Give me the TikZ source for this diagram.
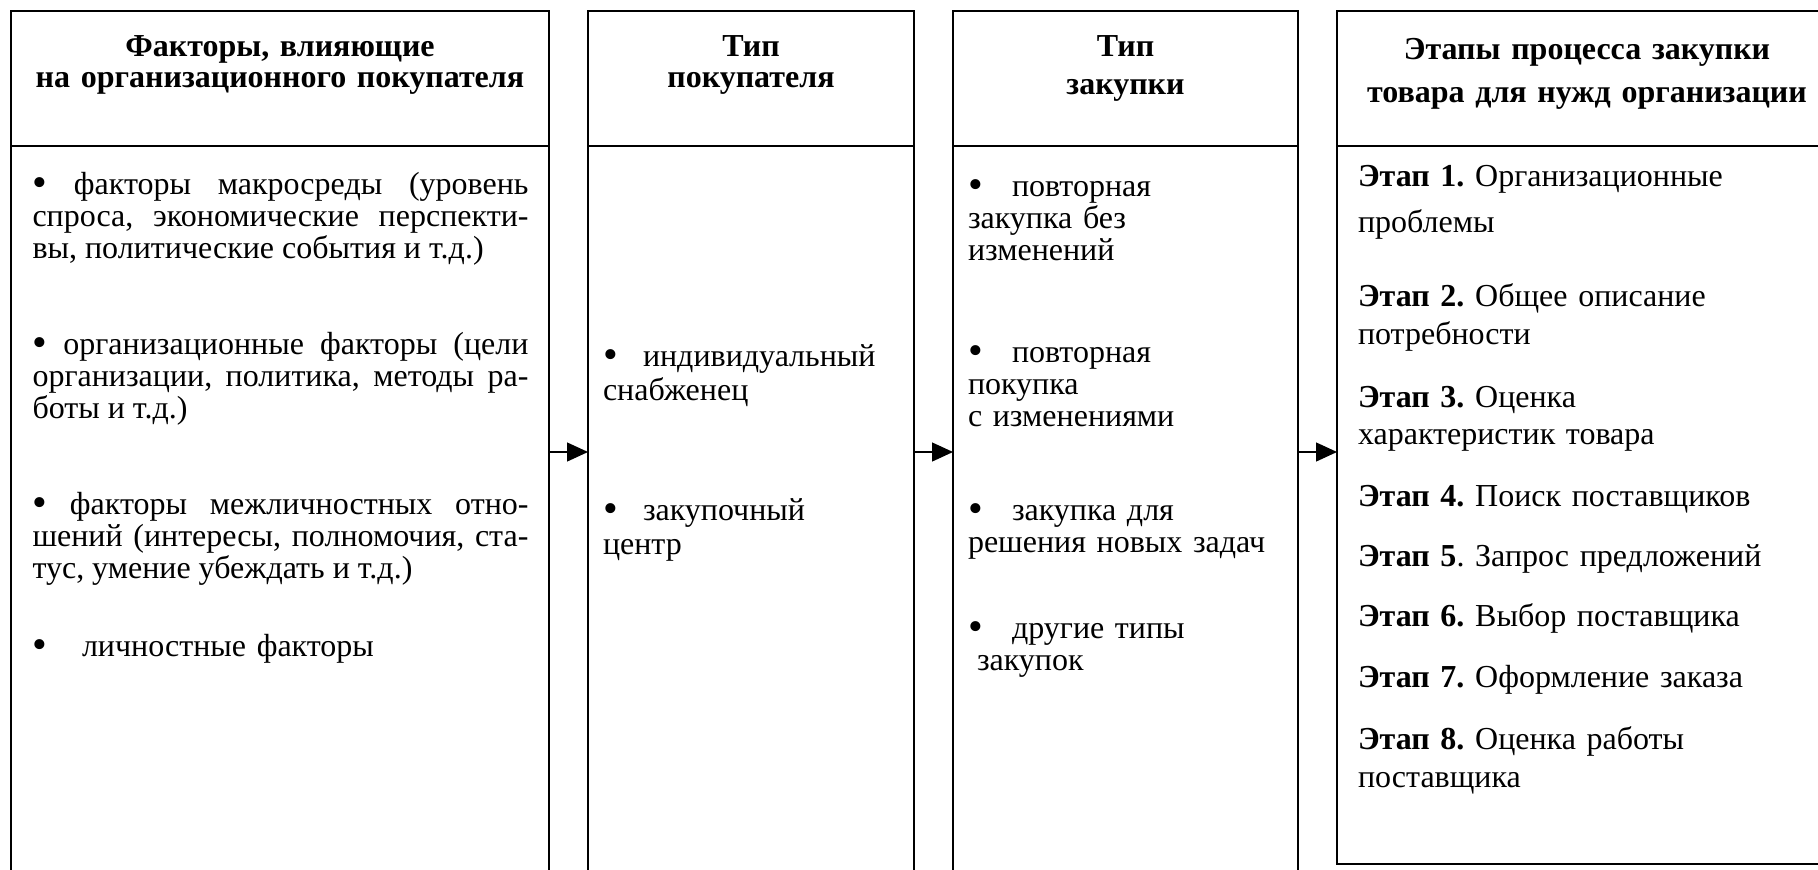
\documentclass[tikz,border=0pt]{standalone}
\usepackage{fontspec}
\setmainfont{Liberation Serif}
\frenchspacing
\usetikzlibrary{arrows.meta}
\newcommand{\bul}{\smash{\raisebox{-2.5pt}{\fontsize{42}{32}\selectfont•}}}
\begin{document}
\begin{tikzpicture}[x=1pt,y=-1pt,
  colbox/.style={draw,line width=1.3pt,anchor=north west,inner sep=0pt,outer sep=0pt},
  lastbox/.style={colbox,line width=2pt},
  txt/.style={inner sep=0pt,outer sep=0pt,anchor=base west,font=\fontsize{32}{32}\selectfont\frenchspacing,align=left,text width=460pt},
  txtb/.style={txt,font=\fontsize{32}{34}\selectfont\frenchspacing},
  txtd/.style={txt,font=\fontsize{32}{38}\selectfont\frenchspacing},
  jtxt/.style={txt,text width=496pt,align=justify},
  hd/.style={inner sep=0pt,outer sep=0pt,anchor=base,font=\fontsize{32}{31.5}\selectfont\bfseries,align=center,text width=500pt},
  arr/.style={line width=1.3pt,-{Triangle[length=21pt,width=19pt]}}]
\useasboundingbox (0,0) rectangle (1818,870);
% column boxes
\node[colbox,minimum width=538pt,minimum height=135pt] (h1) at (11,11) {};
\node[colbox,minimum width=538pt,minimum height=740pt] (c1) at (11,146) {};
\node[colbox,minimum width=326pt,minimum height=135pt] (h2) at (588,11) {};
\node[colbox,minimum width=326pt,minimum height=740pt] (c2) at (588,146) {};
\node[colbox,minimum width=345pt,minimum height=135pt] (h3) at (953,11) {};
\node[colbox,minimum width=345pt,minimum height=740pt] (c3) at (953,146) {};
\node[lastbox,minimum width=500pt,minimum height=135pt] (h4) at (1337,11) {};
\node[lastbox,minimum width=500pt,minimum height=718pt] (c4) at (1337,146) {};
% headers
\node[hd] (t1) at (280,56) {Факторы, влияющие\\на организационного покупателя};
\node[hd] (t2) at (751,56) {Тип\\покупателя};
\node[hd] (t3) at (1125.5,56) {Тип\\[6.5pt]закупки};
\node[hd] (t4) at (1587,59.5) {Этапы процесса закупки\\[11.5pt]товара для нужд организации};
% column 1
\node[jtxt] (p1) at (32.5,194) {\bul{} факторы макросреды (уровень\linebreak спроса, экономические перспекти-\linebreak вы, политические события и т.д.)};
\node[jtxt] (p2) at (32.5,354) {\bul{} организационные факторы (цели\linebreak организации, политика, методы ра-\linebreak боты и т.д.)};
\node[jtxt] (p3) at (32.5,514) {\bul{} факторы межличностных отно-\linebreak шений (интересы, полномочия, ста-\linebreak тус, умение убеждать и т.д.)};
\node[txt] (p4) at (32.5,656) {\makebox[49.5pt][l]{\bul}личностные факторы};
% column 2
\node[txtb,text width=300pt] (q1) at (603,366) {\makebox[40pt][l]{\bul}индивидуальный\\снабженец};
\node[txtb,text width=300pt] (q2) at (603,520) {\makebox[40pt][l]{\bul}закупочный\\центр};
% column 3
\node[txt,text width=320pt] (r1) at (968,196) {\makebox[44pt][l]{\bul}повторная\\закупка без\\изменений};
\node[txt,text width=320pt] (r2) at (968,362) {\makebox[44pt][l]{\bul}повторная\\покупка\\с изменениями};
\node[txt,text width=320pt] (r3) at (968,520) {\makebox[44pt][l]{\bul}закупка для\\решения новых задач};
\node[txt,text width=320pt] (r4) at (968,638) {\makebox[44pt][l]{\bul}другие типы\\\hspace*{9pt}закупок};
% column 4
\node[txtd] (s1) at (1358,186) {\textbf{Этап 1.} Организационные\\[8pt]проблемы};
\node[txtd] (s2) at (1358,306) {\textbf{Этап 2.} Общее описание\\потребности};
\node[txtd] (s3) at (1358,407) {\textbf{Этап 3.} Оценка\\[-1pt]характеристик товара};
\node[txtd] (s4) at (1358,506) {\textbf{Этап 4.} Поиск поставщиков};
\node[txtd] (s5) at (1358,566) {\textbf{Этап 5}. Запрос предложений};
\node[txtd] (s6) at (1358,626) {\textbf{Этап 6.} Выбор поставщика};
\node[txtd] (s7) at (1358,687) {\textbf{Этап 7.} Оформление заказа};
\node[txtd] (s8) at (1358,749) {\textbf{Этап 8.} Оценка работы\\поставщика};
% arrows
\coordinate (ay) at (0,452);
\draw[arr] (c1.east |- ay) -- (c2.west |- ay);
\draw[arr] (c2.east |- ay) -- (c3.west |- ay);
\draw[arr] (c3.east |- ay) -- (c4.west |- ay);
\end{tikzpicture}
\end{document}
